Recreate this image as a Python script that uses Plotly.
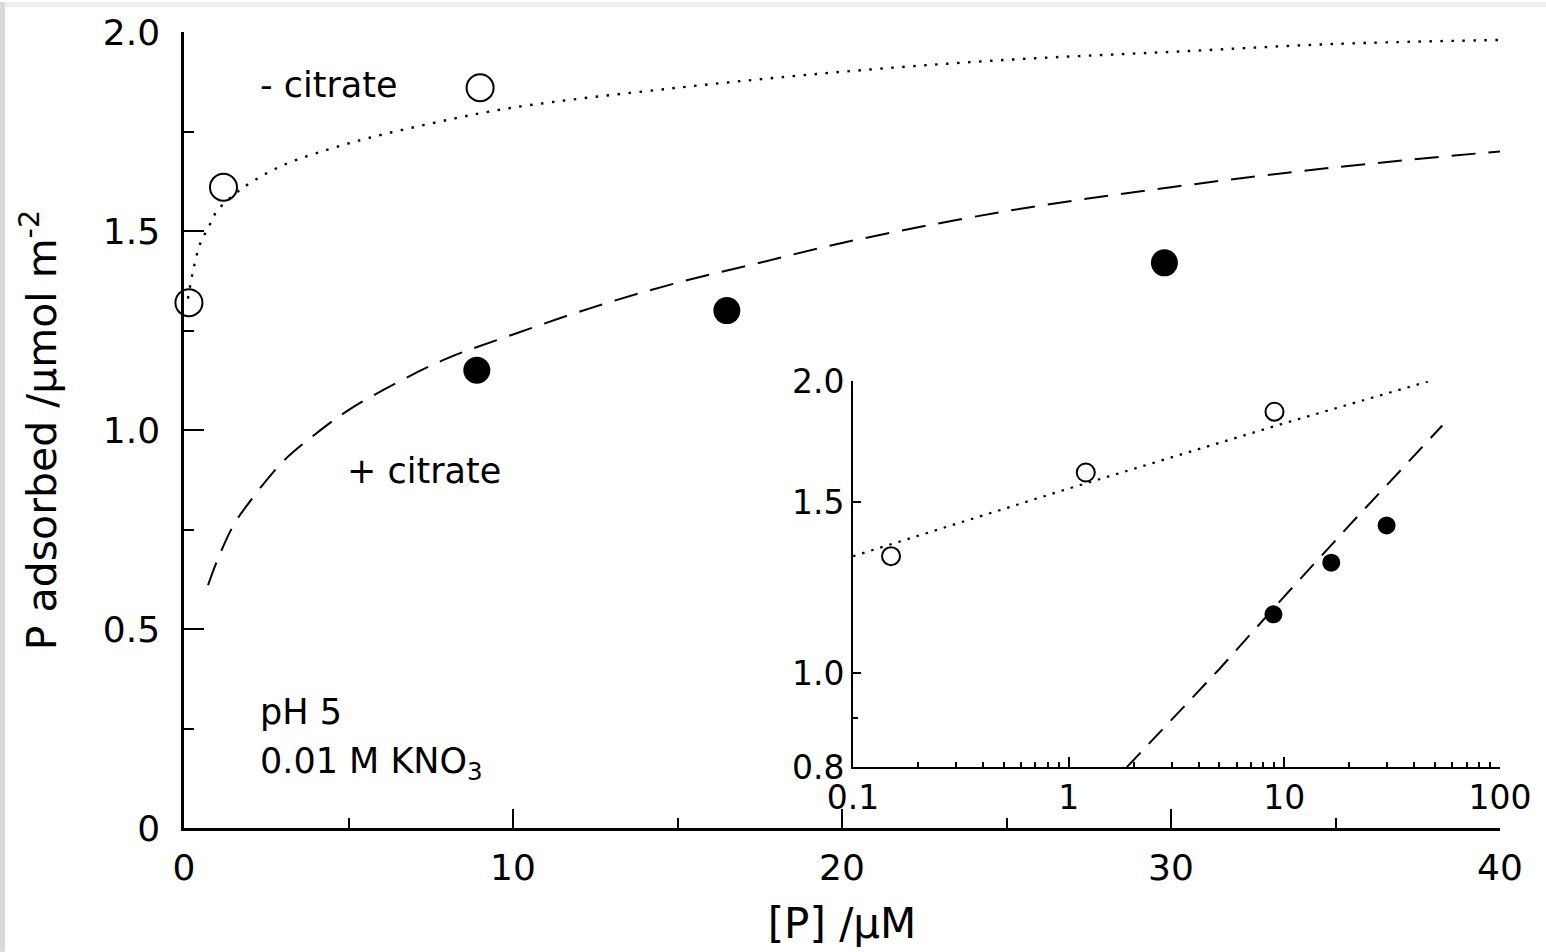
import plotly.graph_objects as go

# ---- data ----
# main panel: measured points
open_x = [0.15, 1.2, 9.0]
open_y = [1.32, 1.61, 1.86]
filled_x = [8.9, 16.5, 29.8]
filled_y = [1.15, 1.30, 1.42]

# main panel: fitted curves
dot_x = [0.12, 0.3, 0.5, 0.75, 1.0, 1.5, 2, 3, 5, 7.5, 10, 15, 20, 25, 30, 35, 40]
dot_y = [1.33, 1.41, 1.47, 1.51, 1.55, 1.59, 1.62, 1.665, 1.72, 1.77, 1.81, 1.86, 1.90, 1.93, 1.95, 1.97, 1.98]
dash_x = [0.73, 1.0, 1.5, 2.0, 3.0, 4.0, 5.0, 6.5, 8.0, 10, 12.5, 15, 17.5, 20, 25, 30, 35, 40]
dash_y = [0.61, 0.67, 0.76, 0.82, 0.92, 0.99, 1.05, 1.12, 1.18, 1.24, 1.31, 1.37, 1.42, 1.47, 1.55, 1.61, 1.66, 1.70]

# inset (log-log)
in_dot_x = [0.1, 1.0, 10.0, 47.0]
in_dot_y = [1.32, 1.55, 1.81, 2.0]
in_dash_x = [1.86, 5.0, 10.0, 20.0, 54.0]
in_dash_y = [0.80, 1.01, 1.20, 1.42, 1.80]

main_xticks = [0, 10, 20, 30, 40]
main_xminor = [5, 15, 25, 35]
main_yticks = [0, 0.5, 1.0, 1.5, 2.0]
main_yticktext = ["0", "0.5", "1.0", "1.5", "2.0"]
main_yminor = [0.25, 0.75, 1.25, 1.75]
in_xticks = [0.1, 1, 10, 100]
in_xticktext = ["0.1", "1", "10", "100"]
in_xminor = [0.2, 0.3, 0.4, 0.5, 0.6, 0.7, 0.8, 0.9, 2, 3, 4, 5, 6, 7, 8, 9,
             20, 30, 40, 50, 60, 70, 80, 90]
in_yticks = [0.8, 1.0, 1.5, 2.0]
in_yticktext = ["0.8", "1.0", "1.5", "2.0"]
in_yminor = [0.9]

FONT = "DejaVu Sans"
fig = go.Figure()

# main panel
fig.add_trace(go.Scatter(x=dot_x, y=dot_y, mode="lines", line_shape="spline",
                         line=dict(color="black", width=2.4, dash="2.5px,8.5px"),
                         showlegend=False, hoverinfo="skip"))
fig.add_trace(go.Scatter(x=dash_x, y=dash_y, mode="lines", line_shape="spline",
                         line=dict(color="black", width=2, dash="24px,13px"), showlegend=False))
fig.add_trace(go.Scatter(x=open_x, y=open_y, mode="markers", cliponaxis=False,
                         marker=dict(symbol="circle-open", size=27, color="black", line=dict(width=2)),
                         showlegend=False))
fig.add_trace(go.Scatter(x=filled_x, y=filled_y, mode="markers", cliponaxis=False,
                         marker=dict(symbol="circle", size=27, color="black"), showlegend=False))

# inset
fig.add_trace(go.Scatter(x=in_dot_x, y=in_dot_y, mode="lines", xaxis="x2", yaxis="y2",
                         line=dict(color="black", width=2.2, dash="2.5px,7px"), showlegend=False))
fig.add_trace(go.Scatter(x=in_dash_x, y=in_dash_y, mode="lines", xaxis="x2", yaxis="y2",
                         line=dict(color="black", width=2, dash="20px,12px"), showlegend=False))
fig.add_trace(go.Scatter(x=open_x, y=open_y, mode="markers", xaxis="x2", yaxis="y2", cliponaxis=False,
                         marker=dict(symbol="circle-open", size=18, color="black", line=dict(width=2)),
                         showlegend=False))
fig.add_trace(go.Scatter(x=filled_x, y=filled_y, mode="markers", xaxis="x2", yaxis="y2", cliponaxis=False,
                         marker=dict(symbol="circle", size=18, color="black"), showlegend=False))

axis_common = dict(showgrid=False, zeroline=False, showline=True, linecolor="black", ticks="inside",
                   tickcolor="black", mirror=False)

fig.update_layout(
    width=1546, height=952,
    margin=dict(l=184, r=46, t=30, b=124),
    paper_bgcolor="white", plot_bgcolor="white",
    font=dict(family=FONT, color="black", size=36),
    xaxis=dict(**axis_common, range=[0, 40], tickvals=main_xticks, ticklen=19, tickwidth=2, linewidth=2.5,
               tickfont=dict(size=36), ticklabelstandoff=6,
               minor=dict(tickvals=main_xminor, ticklen=10, tickwidth=2, ticks="inside", tickcolor="black"),
               title=dict(text="[P] /µM", font=dict(size=42), standoff=22)),
    yaxis=dict(**axis_common, range=[0, 2.0], tickvals=main_yticks, ticktext=main_yticktext, ticklen=20,
               tickwidth=2, linewidth=2.5, tickfont=dict(size=36), ticklabelstandoff=14,
               minor=dict(tickvals=main_yminor, ticklen=10, tickwidth=2, ticks="inside", tickcolor="black"),
               title=dict(text="P adsorbed /µmol m<sup>-2</sup>", font=dict(size=41), standoff=34)),
    xaxis2=dict(**axis_common, type="log", range=[-1, 2], domain=[0.5084, 1.0], anchor="y2",
                tickvals=in_xticks, ticktext=in_xticktext, ticklen=10, tickwidth=2, linewidth=2,
                tickfont=dict(size=33), ticklabelstandoff=0,
                minor=dict(tickvals=in_xminor, ticklen=5, tickwidth=1.5, ticks="inside", tickcolor="black")),
    yaxis2=dict(**axis_common, type="log", range=[-0.09691, 0.30103], domain=[0.0764, 0.5614], anchor="x2",
                tickvals=in_yticks, ticktext=in_yticktext, ticklen=8, tickwidth=2, linewidth=2,
                tickfont=dict(size=33), ticklabelstandoff=0,
                minor=dict(tickvals=in_yminor, ticklen=5, tickwidth=1.5, ticks="inside", tickcolor="black")),
    annotations=[
        dict(x=2.25, y=1.867, xref="x", yref="y", text="- citrate", showarrow=False,
             xanchor="left", yanchor="middle", font=dict(size=35)),
        dict(x=4.89, y=0.897, xref="x", yref="y", text="+ citrate", showarrow=False,
             xanchor="left", yanchor="middle", font=dict(size=35)),
        dict(x=2.25, y=0.292, xref="x", yref="y", text="pH 5", showarrow=False,
             xanchor="left", yanchor="middle", font=dict(size=35)),
        dict(x=2.25, y=0.163, xref="x", yref="y", text="0.01 M KNO<sub>3</sub>", showarrow=False,
             xanchor="left", yanchor="middle", font=dict(size=35)),
    ],
    shapes=[
        dict(type="rect", xref="paper", yref="paper", x0=-0.1398, x1=1.035, y0=1.0313, y1=1.0376,
             fillcolor="#efefef", line=dict(width=0), layer="below"),
        dict(type="rect", xref="paper", yref="paper", x0=-0.1398, x1=-0.1360, y0=-0.1554, y1=1.0376,
             fillcolor="#d9d9d9", line=dict(width=0), layer="below"),
    ],
)

fig.write_html("out.html", config={"displayModeBar": False},
               post_script="document.body.style.margin='0px';")
